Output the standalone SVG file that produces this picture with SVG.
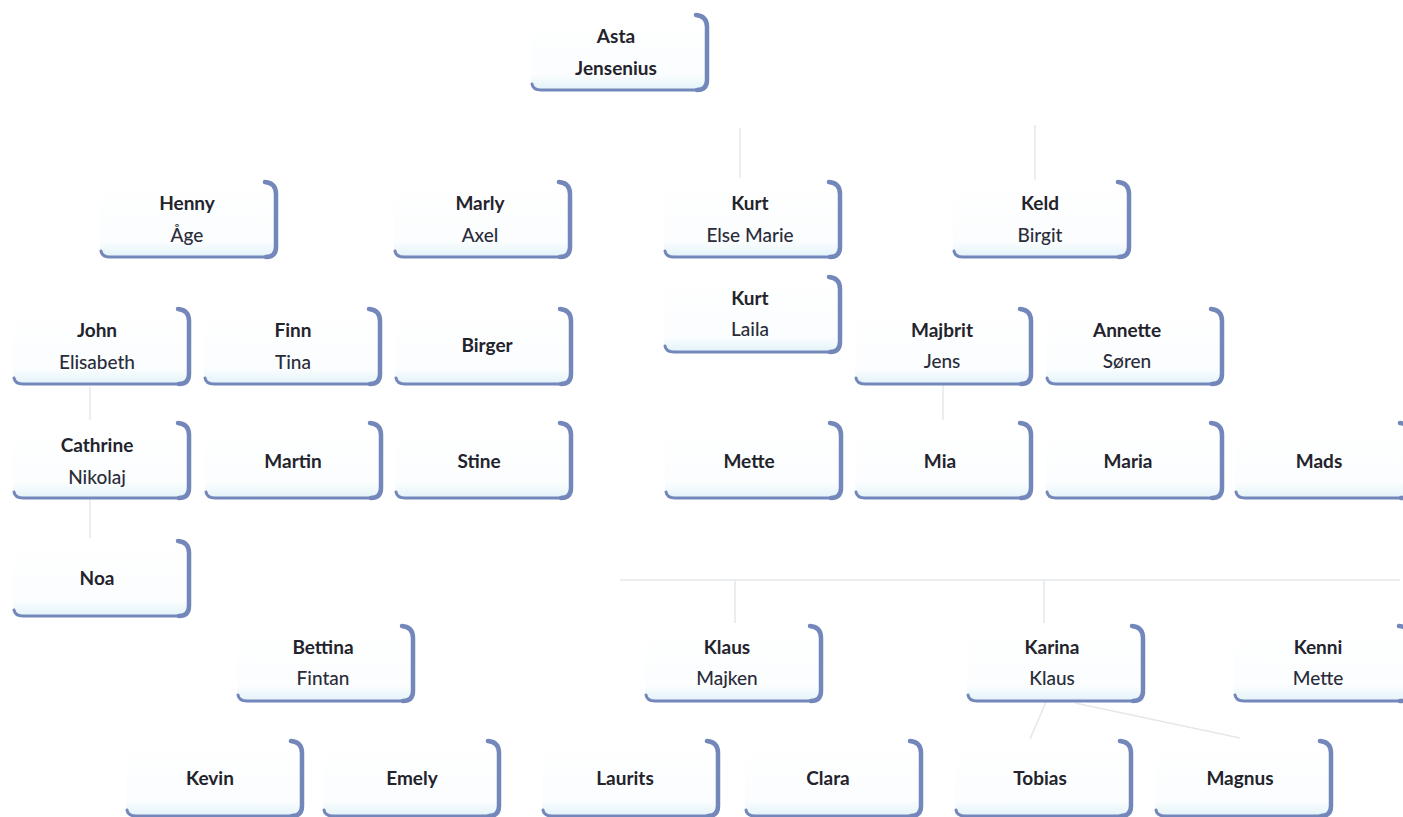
<svg xmlns="http://www.w3.org/2000/svg" width="1403" height="817" viewBox="0 0 1403 817">
<style>
.t1{font-family:Lato,"Liberation Sans",sans-serif;font-size:19px;font-weight:bold;fill:#23232c;text-anchor:middle}
.t2{font-family:Lato,"Liberation Sans",sans-serif;font-size:19px;font-weight:500;fill:#2a2c3a;text-anchor:middle}
.c{stroke:#e4e8eb;stroke-width:1.5;fill:none}
.er{fill:none;stroke:#7487bb;stroke-width:4.5;stroke-linecap:round}
.eb{fill:none;stroke:#7487bb;stroke-width:3;stroke-linecap:round}
</style>
<defs>
<linearGradient id="g" x1="0" y1="0" x2="0" y2="1">
<stop offset="0" stop-color="#ffffff"/>
<stop offset="0.8" stop-color="#fbfdfe"/>
<stop offset="1" stop-color="#e2f3f9"/>
</linearGradient>
<symbol id="box" overflow="visible">
<rect x="0" y="0" width="176" height="76" rx="10" fill="url(#g)"/>
<path class="er" d="M165 1 Q176 2 176 13 L176 66 Q176 76 166 76"/>
<path class="eb" d="M166 76 L10 76 Q2 76 1 70"/>
</symbol>
</defs>
<rect width="1403" height="817" fill="#ffffff"/>
<g id="connectors">
<line class="c" x1="740" y1="128" x2="740" y2="178"/>
<line class="c" x1="1035" y1="125" x2="1035" y2="180"/>
<line class="c" x1="90" y1="387" x2="90" y2="420"/>
<line class="c" x1="90" y1="499" x2="90" y2="538"/>
<line class="c" x1="943" y1="385" x2="943" y2="420"/>
<line class="c" x1="620" y1="580" x2="1400" y2="580"/>
<line class="c" x1="735" y1="580" x2="735" y2="623"/>
<line class="c" x1="1044" y1="580" x2="1044" y2="623"/>
<line class="c" x1="1046" y1="702" x2="1030" y2="739"/>
<line class="c" x1="1075" y1="703" x2="1240" y2="738"/>
</g>
<g id="n-asta"><use href="#box" x="531" y="14"/><text class="t1" x="616" y="43">Asta</text><text class="t1" x="616" y="75">Jensenius</text></g>
<g id="n-henny"><use href="#box" x="100" y="181"/><text class="t1" x="187" y="210">Henny</text><text class="t2" x="187" y="242">Åge</text></g>
<g id="n-marly"><use href="#box" x="394" y="181"/><text class="t1" x="480" y="210">Marly</text><text class="t2" x="480" y="242">Axel</text></g>
<g id="n-kurt-else"><use href="#box" x="664" y="181"/><text class="t1" x="750" y="210">Kurt</text><text class="t2" x="750" y="242">Else Marie</text></g>
<g id="n-keld"><use href="#box" x="953" y="181"/><text class="t1" x="1040" y="210">Keld</text><text class="t2" x="1040" y="242">Birgit</text></g>
<g id="n-kurt-laila"><use href="#box" x="664" y="276"/><text class="t1" x="750" y="305">Kurt</text><text class="t2" x="750" y="336">Laila</text></g>
<g id="n-john"><use href="#box" x="13" y="308"/><text class="t1" x="97" y="337">John</text><text class="t2" x="97" y="369">Elisabeth</text></g>
<g id="n-finn"><use href="#box" x="204" y="308"/><text class="t1" x="293" y="337">Finn</text><text class="t2" x="293" y="369">Tina</text></g>
<g id="n-birger"><use href="#box" x="395" y="308"/><text class="t1" x="487" y="352">Birger</text></g>
<g id="n-majbrit"><use href="#box" x="855" y="308"/><text class="t1" x="942" y="337">Majbrit</text><text class="t2" x="942" y="368">Jens</text></g>
<g id="n-annette"><use href="#box" x="1046" y="308"/><text class="t1" x="1127" y="337">Annette</text><text class="t2" x="1127" y="368">Søren</text></g>
<g id="n-cathrine"><use href="#box" x="13" y="422"/><text class="t1" x="97" y="452">Cathrine</text><text class="t2" x="97" y="484">Nikolaj</text></g>
<g id="n-martin"><use href="#box" x="205" y="422"/><text class="t1" x="293" y="468">Martin</text></g>
<g id="n-stine"><use href="#box" x="395" y="422"/><text class="t1" x="479" y="468">Stine</text></g>
<g id="n-mette"><use href="#box" x="665" y="422"/><text class="t1" x="749" y="468">Mette</text></g>
<g id="n-mia"><use href="#box" x="855" y="422"/><text class="t1" x="940" y="468">Mia</text></g>
<g id="n-maria"><use href="#box" x="1046" y="422"/><text class="t1" x="1128" y="468">Maria</text></g>
<g id="n-mads"><use href="#box" x="1235" y="422"/><text class="t1" x="1319" y="468">Mads</text></g>
<g id="n-noa"><use href="#box" x="13" y="540"/><text class="t1" x="97" y="585">Noa</text></g>
<g id="n-bettina"><use href="#box" x="237" y="625"/><text class="t1" x="323" y="654">Bettina</text><text class="t2" x="323" y="685">Fintan</text></g>
<g id="n-klaus"><use href="#box" x="645" y="625"/><text class="t1" x="727" y="654">Klaus</text><text class="t2" x="727" y="685">Majken</text></g>
<g id="n-karina"><use href="#box" x="967" y="625"/><text class="t1" x="1052" y="654">Karina</text><text class="t2" x="1052" y="685">Klaus</text></g>
<g id="n-kenni"><use href="#box" x="1234" y="625"/><text class="t1" x="1318" y="654">Kenni</text><text class="t2" x="1318" y="685">Mette</text></g>
<g id="n-kevin"><use href="#box" x="126" y="740"/><text class="t1" x="210" y="785">Kevin</text></g>
<g id="n-emely"><use href="#box" x="323" y="740"/><text class="t1" x="412" y="785">Emely</text></g>
<g id="n-laurits"><use href="#box" x="542" y="740"/><text class="t1" x="625" y="785">Laurits</text></g>
<g id="n-clara"><use href="#box" x="745" y="740"/><text class="t1" x="828" y="785">Clara</text></g>
<g id="n-tobias"><use href="#box" x="955" y="740"/><text class="t1" x="1040" y="785">Tobias</text></g>
<g id="n-magnus"><use href="#box" x="1155" y="740"/><text class="t1" x="1240" y="785">Magnus</text></g>
</svg>
